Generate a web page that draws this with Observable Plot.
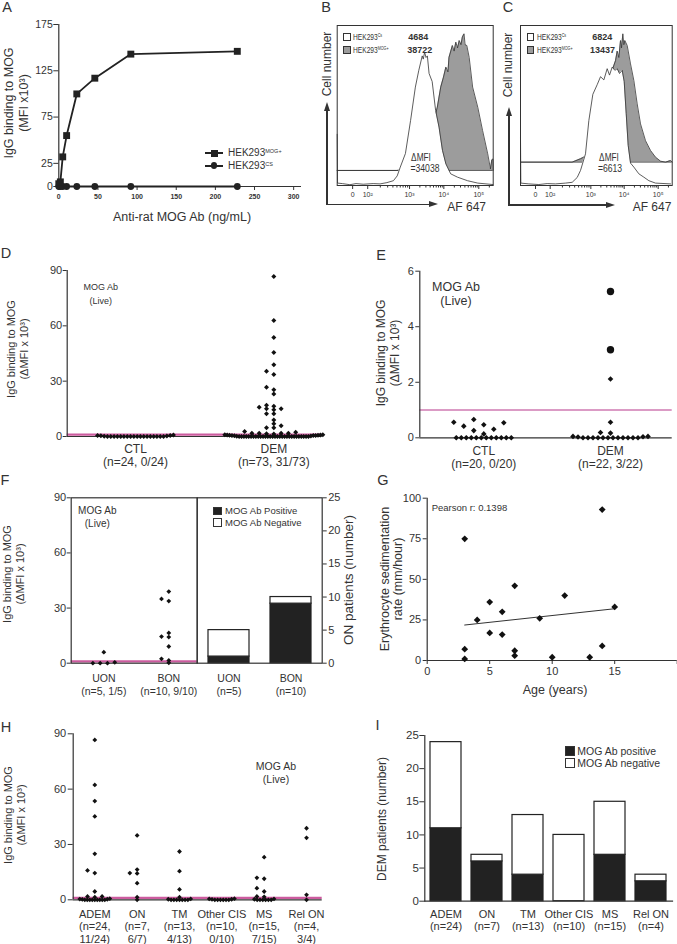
<!DOCTYPE html>
<html><head><meta charset="utf-8">
<script src="https://cdn.jsdelivr.net/npm/d3@7"></script>
<script src="https://cdn.jsdelivr.net/npm/@observablehq/plot@0.6"></script>
<style>
body{margin:0;background:#fff;}
#fig{position:relative;width:677px;height:944px;background:#fff;font-family:"Liberation Sans",Arial,Helvetica,sans-serif;color:#333;overflow:hidden;}
.t{position:absolute;white-space:nowrap;line-height:1;text-align:center;}
.sup{font-size:55%;vertical-align:0.55em;}
.sq{position:absolute;box-sizing:border-box;border:1px solid #333;}
</style></head><body><div id="fig"></div>
<script>
// ---------------- DATA ----------------
// A: titration of anti-rat MOG antibody
const aConc = [0, 2, 5, 10, 23, 46, 92, 228];
const aMogPos = [3, 5, 32, 55, 100, 117, 143, 146];
const aCs = [0, 0, 0, 0, 0, 0, 0, 0];
const aXTicks = [0, 50, 100, 150, 200, 250, 300];
const aYTicks = [0, 25, 75, 125, 175];

// B, C: flow cytometry histograms (u = position on biexponential AF 647 axis, count = % of max)
const flowTickPos = [0, 0.44, 1.66, 2.66, 3.68];
const flowTickLabels = ["0", "10\u00B2", "10\u00B3", "10\u2074", "10\u2075"];
const bCsU = [-0.45,-0.44,-0.3,-0.08,0.1,0.31,0.6,0.8,1.0,1.19,1.3,1.39,1.54,1.69,1.83,1.93,2.03,2.06,2.10,2.14,2.18,2.23,2.32,2.42,2.52,2.62,2.72,2.86,3.06,3.35,3.65,4.09];
const bCsCount = [32,1.5,1.2,0.5,1.2,0.8,1.2,1,1.8,3,6,11.5,20,40.6,61.5,72,81,79,83.3,80,81,70,65,47,36.5,22,13.5,7.3,5.2,3,1.5,0.6];
const bMogU = [-0.45,1.29,1.69,2.08,2.37,2.47,2.57,2.65,2.72,2.78,2.81,2.91,2.96,3.01,3.06,3.11,3.16,3.20,3.25,3.28,3.33,3.40,3.50,3.65,3.79,3.94,4.02,4.06,4.09,4.1];
const bMogCount = [9.4,9.4,10.4,19.8,40.6,48.9,61.5,67.7,74,71,80,87.5,84,89.6,86,90.6,88,92.7,94.8,88,87.5,80,61.5,48.9,34.4,19.8,10.4,16,16.6,9.4];
const bMogBase = 9.4;
const cCsU = [-0.45,-0.44,-0.2,0.1,0.35,0.6,0.9,1.10,1.25,1.35,1.50,1.60,1.72,1.85,1.95,2.05,2.15,2.22,2.30,2.38,2.45,2.52,2.60,2.66,2.72,2.78,2.85,2.95,3.10,3.25,3.40,3.60,4.05];
const cCsCount = [30,1.5,1,0.6,1.2,1,1.5,2,5,9.4,19.8,40.6,57,63,68,66,73,69,74,72,73,70,72,65,45,25,14,11.5,7.3,5.2,3,1.5,1];
const cMogU = [-0.45,1.10,1.35,1.55,1.70,2.00,2.30,2.40,2.45,2.50,2.55,2.58,2.62,2.65,2.68,2.75,2.85,2.95,3.05,3.15,3.30,3.45,3.60,3.75,3.90,4.05,4.1];
const cMogCount = [14.6,14.6,16.7,18.8,15.6,40.6,72,78,84,80,90.6,86,94.8,88,90.6,87.5,76,65.6,51,38.5,28,21.9,17.7,15.2,14.6,15.6,14.6];
const cMogBase = 14.6;

// D: CTL vs DEM (Live MOG Ab, dMFI x10^3)
const dCats = ["CTL", "DEM"];
const dN = ["n=24, 0/24", "n=73, 31/73"];
const dCtl = [0,0,0,0,0,0,0,0,0,0,0,0,0,0,0,0,0,0,0.3,0.6,0.4,0.8,0.5,0.2];
const dDem = [86.7,62.9,53.7,45.5,38.9,35.4,33.6,26.7,25.3,23.1,17.0,16.4,15.9,15.0,15.0,14.5,12.3,12.3,9.0,6.9,5.8,4.7,4.7,2.7,2.3,1.8,1.8,1.8,1.8,1.5,1.3,
  0,0,0,0,0,0,0,0,0,0,0,0,0,0,0,0,0,0,0,0,0,0,0,0,0,0,0,0,0,0,0.2,0.3,0.4,0.5,0.5,0.6,0.7,0.7,0.8,0.8,0.9,0.9];
const dYTicks = [0, 30, 60, 90];
const cutoff = 1;

// E: second cohort
const eCats = ["CTL", "DEM"];
const eN = ["n=20, 0/20", "n=22, 3/22"];
const eCtl = [0,0,0,0,0,0,0,0,0,0,0,0,0.31,0.14,0.56,0.47,0.42,0.54,0.66,0.26];
const eDem = [2.12,0.56,0.19,0.17,0,0,0,0,0,0,0,0,0,0,0,0,0.04,0.05,0.03,0.05];
const eDemCircle = [5.27, 3.17];
const eYTicks = [0, 2, 4, 6];

// F: UON vs BON
const fCats = ["UON", "BON"];
const fDotN = ["n=5, 1/5", "n=10, 9/10"];
const fUon = [6.0, 0, 0, 0, 0.5];
const fBon = [39.0, 35.0, 33.8, 16.5, 14.5, 14.2, 9.1, 2.4, 1.5, 0.2];
const fTotal = [5, 10];
const fPositive = [1, 9];
const fYTicks = [0, 30, 60, 90];
const fRightTicks = [0, 5, 10, 15, 20, 25];

// G: age vs ESR
const gAge = [3,3,3,4,5,5,6,6,7,7,7,9,10,11,13,14,14,15];
const gEsr = [75,7,1,25,36,17,30,16,46,6,3,26,2,40,2,93,9,33];
const gXTicks = [0, 5, 10, 15, 20];
const gXTickLabels = ["0", "5", "10", "15", ""];
const gYTicks = [0, 25, 50, 75, 100];

// H: DEM subgroups
const hNames = ["ADEM", "ON", "TM", "Other CIS", "MS", "Rel ON"];
const hTotals = [24, 7, 13, 10, 15, 4];
const hPositives = [11, 6, 4, 0, 7, 3];
const hAdem = [86.7,62.3,53.5,45.2,24.9,15.9,14.5,4.5,1.8,1.8,1.4,0,0,0,0,0,0,0,0,0,0.2,0.3,0.4,0.6];
const hOn = [34.9,16.4,14.5,14.3,9.0,1.4,0];
const hTm = [26.2,15.5,5.6,1.4,0,0,0,0,0,0,0,0.3,0.5];
const hCis = [0,0,0,0,0,0,0.2,0.3,0.5,0.6];
const hMs = [23.1,11.9,11.4,6.3,4.5,1.8,1.6,0,0,0,0,0,0,0.3,0.5];
const hRel = [38.8,33.6,2.7,0];
const hYTicks = [0, 30, 60, 90];

// I: DEM patients by subgroup
const iNames = ["ADEM", "ON", "TM", "Other CIS", "MS", "Rel ON"];
const iTotal = [24, 7, 13, 10, 15, 4];
const iPositive = [11, 6, 4, 0, 7, 3];
const iYTicks = [0, 5, 10, 15, 20, 25];

// ---------------- LAYOUT ----------------
const L = {
  A: {left:0, top:0, width:330, height:210, mL:58.3, mR:29, mT:24, mB:24},
  B: {left:320, top:20, width:175, height:200, mL:16.7, mR:2.3, mT:5, mB:35},
  C: {left:505, top:20, width:172, height:200, mL:15, mR:5.3, mT:5, mB:35},
  D: {left:0, top:250, width:330, height:225, mL:66.7, mR:8.3, mT:20, mB:39},
  E: {left:330, top:250, width:347, height:225, mL:89.3, mR:5.3, mT:20.7, mB:37.7},
  Fl: {left:0, top:480, width:200, height:220, mL:70.7, mR:3.3, mT:17.3, mB:37.3},
  Fr: {left:190, top:480, width:155, height:220, mL:6.7, mR:23.3, mT:17.3, mB:37.3},
  G: {left:330, top:480, width:347, height:220, mL:96.7, mR:0.3, mT:17.7, mB:40},
  H: {left:0, top:715, width:330, height:229, mL:72.7, mR:8.3, mT:18.3, mB:44.7},
  I: {left:330, top:715, width:347, height:229, mL:94.3, mR:5, mT:20, mB:43.3}
};
const INK = "#333", DOT = "#111", BAR = "#222", PINK = "#cc5c9f", MAGENTA = "#b8388c", GRAY = "#9c9c9c";
const fig = document.getElementById("fig");
const fw = g => g.width - g.mL - g.mR;
const fh = g => g.height - g.mT - g.mB;
const intFmt = d => String(d);
const diamond = {draw(ctx, size) {const h = Math.sqrt(size / Math.PI); ctx.moveTo(0,-h); ctx.lineTo(h,0); ctx.lineTo(0,h); ctx.lineTo(-h,0); ctx.closePath();}};

function mk(key, opts) {
  const g = L[key];
  const p = Plot.plot({
    width: g.width, height: g.height,
    marginLeft: g.mL, marginRight: g.mR, marginTop: g.mT, marginBottom: g.mB,
    style: {fontFamily: '"Liberation Sans", Arial, Helvetica, sans-serif', fontSize: "11px", color: INK, background: "transparent", overflow: "visible"},
    ...opts
  });
  p.style.position = "absolute"; p.style.left = g.left + "px"; p.style.top = g.top + "px";
  fig.appendChild(p);
  return p;
}

// beeswarm layout computed from values (rows near zero are compressed, others dodge)
function swarm(groups, o) {
  const out = [];
  groups.forEach((items, ci) => {
    const pts = items.slice().sort((a, b) => a.v - b.v);
    const base = pts.filter(p => p.v * o.pyu < o.baseTh);
    const rest = pts.filter(p => p.v * o.pyu >= o.baseTh);
    const n = base.length;
    const s = n > 1 ? Math.min(o.baseDx, o.maxW / (n - 1)) : 0;
    const slots = d3.range(n).map(i => (i - (n - 1) / 2) * s).sort((a, b) => Math.abs(a) - Math.abs(b) || a - b);
    base.forEach((p, i) => out.push({...p, cat: ci, x: ci + slots[i] / o.pxu}));
    const placed = [];
    rest.forEach(p => {
      const y = p.v * o.pyu;
      let off = 0;
      for (let k = 0; k < 200; k++) {
        const m = Math.ceil(k / 2);
        off = (k % 2 === 1 ? -m : m) * o.dx;
        if (!placed.some(q => Math.abs(q.y - y) < o.dyTol && Math.abs(q.off - off) < o.dx * 0.95)) break;
      }
      placed.push({y, off});
      out.push({...p, cat: ci, x: ci + off / o.pxu});
    });
  });
  return out;
}
const wrap = a => a.map(v => ({v}));

// ---------------- PANEL A ----------------
const aRows = aConc.map((c, i) => ({c, pos: aMogPos[i], cs: aCs[i]}));
mk("A", {
  x: {domain: [0, 310]}, y: {domain: [0, 175]},
  marks: [
    Plot.ruleY([0], {stroke: INK, strokeWidth: 1.2}),
    Plot.ruleX([0], {stroke: INK, strokeWidth: 1.2}),
    Plot.axisY({ticks: aYTicks, tickFormat: intFmt, tickSize: 5, tickPadding: 1, fontSize: 10.5, label: null}),
    Plot.axisX({ticks: aXTicks, tickFormat: intFmt, tickSize: 4, tickPadding: 4, fontSize: 7, fontWeight: "bold", label: null}),
    Plot.line(aRows, {x: "c", y: "cs", stroke: BAR, strokeWidth: 1.8}),
    Plot.dot(aRows, {x: "c", y: "cs", symbol: "circle", r: 3.4, fill: BAR}),
    Plot.line(aRows, {x: "c", y: "pos", stroke: BAR, strokeWidth: 1.8}),
    Plot.dot(aRows, {x: "c", y: "pos", symbol: "square", r: 3.9, fill: BAR})
  ]
});

// ---------------- PANELS B, C ----------------
const flowDomain = [-0.45, 4.1];
const flowMinor = [];
for (let d = 1; d < flowTickPos.length; d++) {
  const step = d < flowTickPos.length - 1 ? flowTickPos[d + 1] - flowTickPos[d] : flowTickPos[d] - flowTickPos[d - 1];
  for (let k = 2; k < 10; k++) { const u = flowTickPos[d] + step * Math.log10(k); if (u < flowDomain[1]) flowMinor.push(u); }
}
const flowFmt = new Map(flowTickPos.map((p, i) => [p, flowTickLabels[i]]));
function flow(key, csU, csC, mogU, mogC, base) {
  const cs = csU.map((u, i) => ({u, c: csC[i]}));
  const mog = mogU.map((u, i) => ({u, c: mogC[i]}));
  mk(key, {
    x: {domain: flowDomain}, y: {domain: [0, 100], axis: null},
    marks: [
      Plot.areaY(mog, {x: "u", y1: () => base, y2: "c", fill: GRAY}),
      Plot.line(mog, {x: "u", y: "c", stroke: INK, strokeWidth: 0.8}),
      Plot.ruleY([base], {stroke: INK, strokeWidth: 0.8}),
      Plot.areaY(cs, {x: "u", y: "c", fill: "white"}),
      Plot.line(cs, {x: "u", y: "c", stroke: INK, strokeWidth: 0.8}),
      Plot.frame({stroke: INK, strokeWidth: 1}),
      Plot.axisX({ticks: flowMinor, tickSize: 2.5, tickFormat: () => "", label: null}),
      Plot.axisX({ticks: flowTickPos, tickSize: 4, tickPadding: 3, tickFormat: d => flowFmt.get(d), fontSize: 7, label: null})
    ]
  });
}
flow("B", bCsU, bCsCount, bMogU, bMogCount, bMogBase);
flow("C", cCsU, cCsCount, cMogU, cMogCount, cMogBase);

// ---------------- PANEL D ----------------
const dDom = [-0.494, 1.35];
const dPts = swarm([wrap(dCtl), wrap(dDem)], {pxu: fw(L.D) / (dDom[1] - dDom[0]), pyu: fh(L.D) / 90, baseTh: 2, baseDx: 3.3, maxW: 98, dx: 7.3, dyTol: 3.5});
mk("D", {
  x: {domain: dDom, axis: null}, y: {domain: [0, 90]},
  marks: [
    Plot.ruleY([0], {stroke: INK, strokeWidth: 1.2}),
    Plot.ruleY([cutoff], {stroke: PINK, strokeWidth: 2.2}),
    Plot.ruleX([dDom[0]], {stroke: INK, strokeWidth: 1.2}),
    Plot.axisY({ticks: dYTicks, tickFormat: intFmt, tickSize: 4, tickPadding: 1, fontSize: 11, label: null}),
    Plot.dot(dPts, {x: "x", y: "v", symbol: diamond, r: 2.5, fill: DOT}),
    Plot.text(dCats, {x: (d, i) => i, text: (d, i) => `${d}\n(${dN[i]})`, frameAnchor: "bottom", lineAnchor: "top", dy: 8, fontSize: 12, lineHeight: 1.05})
  ]
});

// ---------------- PANEL E ----------------
const eDom = [-0.505, 1.487];
const ePts = swarm([eCtl.map(v => ({v, s: "d"})), eDem.map(v => ({v, s: "d"})).concat(eDemCircle.map(v => ({v, s: "c"})))],
  {pxu: fw(L.E) / (eDom[1] - eDom[0]), pyu: fh(L.E) / 6, baseTh: 2, baseDx: 5, maxW: 100, dx: 10, dyTol: 9});
mk("E", {
  x: {domain: eDom, axis: null}, y: {domain: [0, 6]},
  marks: [
    Plot.ruleY([0], {stroke: INK, strokeWidth: 1.2}),
    Plot.ruleY([cutoff], {stroke: MAGENTA, strokeWidth: 1.1}),
    Plot.ruleX([eDom[0]], {stroke: INK, strokeWidth: 1.2}),
    Plot.axisY({ticks: eYTicks, tickFormat: intFmt, tickSize: 4, tickPadding: 2, fontSize: 11, label: null}),
    Plot.dot(ePts.filter(p => p.s === "d"), {x: "x", y: "v", symbol: diamond, r: 2.8, fill: DOT}),
    Plot.dot(ePts.filter(p => p.s === "c"), {x: "x", y: "v", symbol: "circle", r: 3.7, fill: DOT}),
    Plot.text(eCats, {x: (d, i) => i, text: (d, i) => `${d}\n(${eN[i]})`, frameAnchor: "bottom", lineAnchor: "top", dy: 7.5, fontSize: 12, lineHeight: 1.12})
  ]
});

// ---------------- PANEL F ----------------
const fDom = [-0.502, 1.437];
const fPts = swarm([wrap(fUon), wrap(fBon)], {pxu: fw(L.Fl) / (fDom[1] - fDom[0]), pyu: fh(L.Fl) / 90, baseTh: 2, baseDx: 7.3, maxW: 60, dx: 7.3, dyTol: 4});
mk("Fl", {
  x: {domain: fDom, axis: null}, y: {domain: [0, 90]},
  marks: [
    Plot.ruleY([cutoff], {stroke: PINK, strokeWidth: 2.2}),
    Plot.frame({stroke: INK, strokeWidth: 1.2}),
    Plot.axisY({ticks: fYTicks, tickFormat: intFmt, tickSize: 4, tickPadding: 1, fontSize: 11, label: null}),
    Plot.dot(fPts, {x: "x", y: "v", symbol: diamond, r: 2.4, fill: DOT}),
    Plot.text(fCats, {x: (d, i) => i, text: (d, i) => `${d}\n(${fDotN[i]})`, frameAnchor: "bottom", lineAnchor: "top", dy: 9.5, fontSize: 10.5, lineHeight: 1.27})
  ]
});
const fRows = [];
fCats.forEach((c, i) => { fRows.push({cat: c, n: fPositive[i], pos: true}); fRows.push({cat: c, n: fTotal[i] - fPositive[i], pos: false}); });
mk("Fr", {
  x: {domain: fCats, paddingInner: 0.335, paddingOuter: 0.16, axis: null}, y: {domain: [0, 25]},
  marks: [
    Plot.barY(fRows, {x: "cat", y: "n", fill: d => d.pos ? BAR : "#fff", stroke: BAR, strokeWidth: 1.2}),
    Plot.frame({stroke: INK, strokeWidth: 1.2}),
    Plot.axisY({anchor: "right", ticks: fRightTicks, tickFormat: intFmt, tickSize: 4, tickPadding: 2, fontSize: 11, label: null}),
    Plot.text(fCats, {x: d => d, text: (d, i) => `${d}\n(n=${fTotal[i]})`, frameAnchor: "bottom", lineAnchor: "top", dy: 9.5, fontSize: 10.5, lineHeight: 1.27})
  ]
});

// ---------------- PANEL G ----------------
const gRows = gAge.map((a, i) => ({age: a, esr: gEsr[i]}));
const gFmt = new Map(gXTicks.map((t, i) => [t, gXTickLabels[i]]));
mk("G", {
  x: {domain: [0, 20]}, y: {domain: [0, 100]},
  marks: [
    Plot.ruleY([0], {stroke: INK, strokeWidth: 1.2}),
    Plot.ruleX([0], {stroke: INK, strokeWidth: 1.2}),
    Plot.axisY({ticks: gYTicks, tickFormat: intFmt, tickSize: 4, tickPadding: 2, fontSize: 11, label: null}),
    Plot.axisX({ticks: gXTicks, tickFormat: d => gFmt.get(d), tickSize: 4, tickPadding: 3, fontSize: 11, label: null}),
    Plot.linearRegressionY(gRows, {x: "age", y: "esr", ci: 0, stroke: INK, strokeWidth: 1}),
    Plot.dot(gRows, {x: "age", y: "esr", symbol: diamond, r: 3.4, fill: DOT})
  ]
});

// ---------------- PANEL H ----------------
const hDom = [-0.51, 5.37];
const hPts = swarm([hAdem, hOn, hTm, hCis, hMs, hRel].map(wrap), {pxu: fw(L.H) / (hDom[1] - hDom[0]), pyu: fh(L.H) / 90, baseTh: 2, baseDx: 2.8, maxW: 30, dx: 7.3, dyTol: 3.5});
mk("H", {
  x: {domain: hDom, axis: null}, y: {domain: [0, 90]},
  marks: [
    Plot.ruleY([0], {stroke: INK, strokeWidth: 1.2}),
    Plot.ruleY([cutoff], {stroke: PINK, strokeWidth: 2.2}),
    Plot.ruleX([hDom[0]], {stroke: INK, strokeWidth: 1.2}),
    Plot.axisY({ticks: hYTicks, tickFormat: intFmt, tickSize: 5, tickPadding: 2, fontSize: 11, label: null}),
    Plot.dot(hPts, {x: "x", y: "v", symbol: diamond, r: 2.4, fill: DOT}),
    Plot.text(hNames, {x: (d, i) => i, text: (d, i) => `${d}\n(n=${hTotals[i]},\n${hPositives[i]}/${hTotals[i]})`, frameAnchor: "bottom", lineAnchor: "top", dy: 9.5, fontSize: 11, lineHeight: 1.12})
  ]
});

// ---------------- PANEL I ----------------
const iRows = [];
iNames.forEach((c, i) => { iRows.push({cat: c, n: iPositive[i], pos: true}); iRows.push({cat: c, n: iTotal[i] - iPositive[i], pos: false}); });
mk("I", {
  x: {domain: iNames, paddingInner: 0.25, paddingOuter: 0.1, axis: null}, y: {domain: [0, 25]},
  marks: [
    Plot.barY(iRows, {x: "cat", y: "n", fill: d => d.pos ? BAR : "#fff", stroke: BAR, strokeWidth: 1.2}),
    Plot.frame({anchor: "left", stroke: INK, strokeWidth: 1.2}),
    Plot.frame({anchor: "bottom", stroke: INK, strokeWidth: 1.2}),
    Plot.axisY({ticks: iYTicks, tickFormat: intFmt, tickSize: 5, tickPadding: 1, fontSize: 11.5, label: null}),
    Plot.text(iNames, {x: d => d, text: (d, i) => `${d}\n(n=${iTotal[i]})`, frameAnchor: "bottom", lineAnchor: "top", dy: 8, fontSize: 11, lineHeight: 1.12})
  ]
});

// ---------------- TEXT, LEGENDS, ARROWS ----------------
function txt(html, cx, cy, size, o = {}) {
  const d = document.createElement("div");
  d.className = "t";
  d.innerHTML = html;
  d.style.fontSize = size + "px";
  d.style.left = cx + "px"; d.style.top = cy + "px";
  if (o.lh) d.style.lineHeight = o.lh + "px";
  if (o.bold) d.style.fontWeight = "bold";
  const ax = o.left ? "0" : "-50%";
  d.style.transformOrigin = o.left ? "left center" : "center center";
  d.style.transform = `translate(${ax},-50%)` + (o.rot ? ` rotate(${o.rot}deg)` : "") + (o.sx ? ` scaleX(${o.sx})` : "");
  fig.appendChild(d);
  return d;
}
function sq(left, top, size, fill) {
  const d = document.createElement("div");
  d.className = "sq";
  d.style.left = left + "px"; d.style.top = top + "px"; d.style.width = size + "px"; d.style.height = size + "px";
  d.style.background = fill;
  fig.appendChild(d);
}
function box(left, top, w, h, css) {
  const d = document.createElement("div");
  d.style.position = "absolute"; d.style.left = left + "px"; d.style.top = top + "px";
  d.style.width = w + "px"; d.style.height = h + "px";
  Object.assign(d.style, css);
  fig.appendChild(d);
}
function arrowV(x, yTip, yEnd) {
  box(x - 0.6, yTip + 6, 1.2, yEnd - yTip - 6, {background: INK});
  box(x - 3.5, yTip, 0, 0, {borderLeft: "3.5px solid transparent", borderRight: "3.5px solid transparent", borderBottom: "9px solid " + INK});
}
function arrowH(y, xStart, xTip) {
  box(xStart - 0.6, y - 0.6, xTip - xStart - 5, 1.2, {background: INK});
  box(xTip - 9, y - 3.5, 0, 0, {borderTop: "3.5px solid transparent", borderBottom: "3.5px solid transparent", borderLeft: "9px solid " + INK});
}

// panel letters
[["A",7,7],["B",326,7],["C",508,7],["D",6,253],["E",381,255],["F",5,480],["G",383,480],["H",6,727],["I",377.5,725]]
  .forEach(([s, x, y]) => txt(s, x, y, 14.5));

// A
txt("IgG binding to MOG<br>(MFI x10\u00B3)", 17, 103, 12.5, {rot: -90, lh: 15});
txt("Anti-rat MOG Ab (ng/mL)", 182, 217, 12.5);
box(205, 152.2, 18, 1.8, {background: BAR});
box(210.5, 149.5, 7, 7, {background: BAR});
txt('HEK293<span class="sup">MOG+</span>', 228, 153.3, 10, {left: true});
box(205, 164.9, 18, 1.8, {background: BAR});
box(210.6, 162.4, 6.8, 6.8, {background: BAR, borderRadius: "50%"});
txt('HEK293<span class="sup">CS</span>', 228, 166, 10, {left: true});

// B
txt("Cell number", 326.5, 63.5, 12, {rot: -90});
arrowV(327, 101.7, 205);
arrowH(204.5, 327, 438.3);
txt("AF 647", 466.7, 206.7, 12);
sq(343.3, 33, 7.5, "#fff");
sq(343.3, 46.3, 7.5, GRAY);
txt('HEK293<span class="sup">Cs</span>', 352.7, 36.7, 8.5, {left: true, sx: 0.78});
txt('HEK293<span class="sup">MOG+</span>', 352.7, 50, 8.5, {left: true, sx: 0.78});
txt("4684", 408.3, 36.7, 9, {left: true, bold: true});
txt("38722", 407.3, 50, 9, {left: true, bold: true});
txt("\u0394MFI", 420.5, 157.5, 11.5, {sx: 0.72});
txt("=34038", 425, 168.5, 11.5, {sx: 0.75});

// C
txt("Cell number", 508, 65, 12, {rot: -90});
arrowV(509, 106.7, 205.5);
arrowH(205, 509, 615);
txt("AF 647", 652, 206.7, 12);
sq(526.7, 33, 7.5, "#fff");
sq(526.7, 46.3, 7.5, GRAY);
txt('HEK293<span class="sup">Cs</span>', 536.7, 36.7, 8.5, {left: true, sx: 0.78});
txt('HEK293<span class="sup">MOG+</span>', 536.7, 50, 8.5, {left: true, sx: 0.78});
txt("6824", 592.3, 36.7, 9, {left: true, bold: true});
txt("13437", 590, 50, 9, {left: true, bold: true});
txt("\u0394MFI", 608.5, 157.5, 11.5, {sx: 0.72});
txt("=6613", 610, 168.5, 11.5, {sx: 0.75});

// D
txt("IgG binding to MOG<br>(\u0394MFI x 10\u00B3)", 18, 349, 11, {rot: -90, lh: 12.6});
txt("MOG Ab<br>(Live)", 100.7, 294.3, 9, {lh: 13.3});

// E
txt("IgG binding to MOG<br>(\u0394MFI x 10\u00B3)", 388.5, 353, 12, {rot: -90, lh: 13.6});
txt("MOG Ab<br>(Live)", 456, 294, 12.5, {lh: 14.3});

// F
txt("IgG binding to MOG<br>(\u0394MFI x 10\u00B3)", 13.6, 574, 11, {rot: -90, lh: 12.8});
txt("MOG Ab<br>(Live)", 97.3, 516.7, 10, {lh: 13.3});
txt("ON patients (number)", 349, 580, 13.5, {rot: -90});
sq(213.3, 506.5, 8.5, BAR);
txt("MOG Ab Positive", 225, 510.7, 9.5, {left: true});
sq(213.3, 518.3, 8.5, "#fff");
txt("MOG Ab Negative", 225, 522.5, 9.5, {left: true});

// G
txt("Erythrocyte sedimentation<br>rate (mm/hour)", 391.7, 579, 12.5, {rot: -90, lh: 13.3});
txt("Pearson r: 0.1398", 431.7, 508.3, 9.5, {left: true});
txt("Age (years)", 555, 689.7, 12.5);

// H
txt("IgG binding to MOG<br>(\u0394MFI x 10\u00B3)", 15, 815, 11, {rot: -90, lh: 13.4});
txt("MOG Ab<br>(Live)", 276, 772.7, 10.5, {lh: 13.3});

// I
txt("DEM patients (number)", 381.7, 819, 12, {rot: -90});
sq(565, 746, 9.5, BAR);
txt("MOG Ab positive", 577.3, 750.9, 10.5, {left: true});
sq(565, 758.3, 9.5, "#fff");
txt("MOG Ab negative", 577.3, 763, 10.5, {left: true});
</script></body></html>
